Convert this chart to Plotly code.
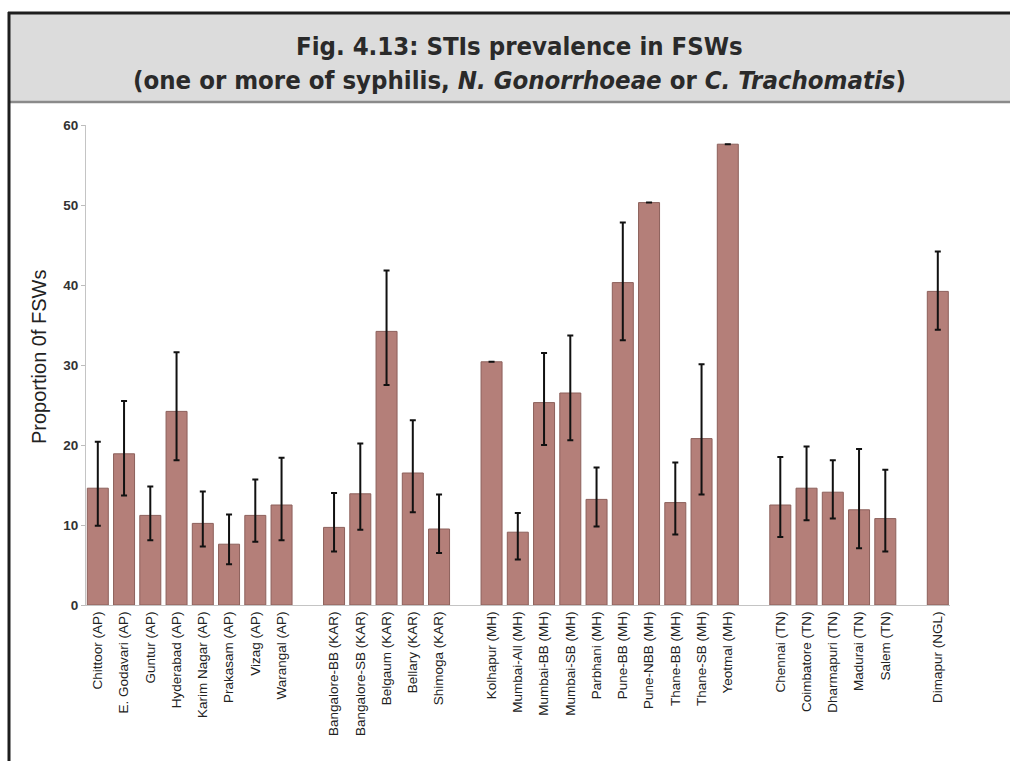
import plotly.graph_objects as go

# ---- data ----
sites = [
    "Chittoor (AP)", "E. Godavari (AP)", "Guntur (AP)", "Hyderabad (AP)",
    "Karim Nagar (AP)", "Prakasam (AP)", "Vizag (AP)", "Warangal (AP)",
    "Bangalore-BB (KAR)", "Bangalore-SB (KAR)", "Belgaum (KAR)", "Bellary (KAR)", "Shimoga (KAR)",
    "Kolhapur (MH)", "Mumbai-All (MH)", "Mumbai-BB (MH)", "Mumbai-SB (MH)", "Parbhani (MH)",
    "Pune-BB (MH)", "Pune-NBB (MH)", "Thane-BB (MH)", "Thane-SB (MH)", "Yeotmal (MH)",
    "Chennai (TN)", "Coimbatore (TN)", "Dharmapuri (TN)", "Madurai (TN)", "Salem (TN)",
    "Dimapur (NGL)",
]
group_sizes = [8, 5, 10, 5, 1]
prevalence = [14.6, 18.9, 11.2, 24.2, 10.2, 7.6, 11.2, 12.5,
              9.7, 13.9, 34.2, 16.5, 9.5,
              30.4, 9.1, 25.3, 26.5, 13.2, 40.3, 50.3, 12.8, 20.8, 57.6,
              12.5, 14.6, 14.1, 11.9, 10.8,
              39.2]
ci_low = [9.9, 13.7, 8.1, 18.1, 7.3, 5.1, 7.9, 8.1,
          6.7, 9.4, 27.5, 11.6, 6.5,
          30.4, 5.7, 20.0, 20.6, 9.8, 33.1, 50.3, 8.8, 13.8, 57.6,
          8.5, 10.6, 10.8, 7.1, 6.7,
          34.4]
ci_high = [20.4, 25.5, 14.8, 31.6, 14.2, 11.3, 15.7, 18.4,
           14.0, 20.2, 41.8, 23.1, 13.8,
           30.4, 11.5, 31.5, 33.7, 17.2, 47.8, 50.3, 17.8, 30.1, 57.6,
           18.5, 19.8, 18.1, 19.5, 16.9,
           44.2]
y_ticks = [0, 10, 20, 30, 40, 50, 60]
title_line1 = "Fig. 4.13: STIs prevalence in FSWs"
title_line2 = "(one or more of syphilis, <i>N. Gonorrhoeae</i> or <i>C. Trachomatis</i>)"
y_title = "Proportion 0f FSWs"

# slot positions: one empty slot between state groups
slots = []
pos = 0
for g in group_sizes:
    for _ in range(g):
        slots.append(pos)
        pos += 1
    pos += 1

err_plus = [h - v for h, v in zip(ci_high, prevalence)]
err_minus = [v - l for v, l in zip(prevalence, ci_low)]

fig = go.Figure()
fig.add_trace(go.Bar(
    x=slots, y=prevalence,
    marker=dict(color="rgb(180,127,121)", line=dict(color="rgb(140,96,91)", width=1)),
    error_y=dict(type="data", symmetric=False, array=err_plus, arrayminus=err_minus,
                 color="#111111", thickness=2, width=3),
    hoverinfo="x+y",
))

W, H = 1010, 761
L, R, T, B = 86, 60, 125, 156
pw, ph = W - L - R, H - T - B


def xp(px):
    return (px - L) / pw


def yp(py):
    return (H - B - py) / ph


shapes = [
    dict(type="rect", xref="paper", yref="paper", x0=xp(10), x1=xp(1015), y0=yp(101), y1=yp(14),
         fillcolor="#dcdcdc", line=dict(width=0), layer="below"),
    dict(type="line", xref="paper", yref="paper", x0=xp(10), x1=xp(1015), y0=yp(102), y1=yp(102),
         line=dict(color="#8a8a8a", width=2.5)),
    dict(type="line", xref="paper", yref="paper", x0=xp(8), x1=xp(1015), y0=yp(13), y1=yp(13),
         line=dict(color="#1e1e1e", width=3)),
    dict(type="line", xref="paper", yref="paper", x0=xp(9), x1=xp(9), y0=yp(12), y1=yp(775),
         line=dict(color="#1e1e1e", width=3)),
]

title_font = dict(family="DejaVu Sans Condensed, sans-serif", size=25.5, color="#2a2a2a")
annotations = [
    dict(text="<b>" + title_line1 + "</b>", xref="paper", yref="paper", x=xp(519), y=yp(46),
         xanchor="center", yanchor="middle", showarrow=False, font=title_font),
    dict(text="<b>" + title_line2 + "</b>", xref="paper", yref="paper", x=xp(519), y=yp(80),
         xanchor="center", yanchor="middle", showarrow=False, font=title_font),
    dict(text=y_title, xref="paper", yref="paper", x=xp(39), y=yp(357), textangle=-90,
         xanchor="center", yanchor="middle", showarrow=False,
         font=dict(family="Liberation Sans, Arial, sans-serif", size=20, color="#222222")),
]

fig.update_layout(
    width=W, height=H,
    margin=dict(l=L, r=R, t=T, b=B, pad=0),
    paper_bgcolor="white", plot_bgcolor="white",
    showlegend=False,
    bargap=0.2,
    shapes=shapes,
    annotations=annotations,
    xaxis=dict(
        range=[(L - 97.8) / 26.25, (950 - 97.8) / 26.25],
        tickmode="array", tickvals=slots, ticktext=sites, tickangle=-90,
        tickfont=dict(family="Liberation Sans, Arial, sans-serif", size=13.5, color="#222222"),
        showline=True, linecolor="#c4c4c4", linewidth=1,
        showgrid=False, zeroline=False, ticks="",
    ),
    yaxis=dict(
        range=[0, 60], tickmode="array", tickvals=y_ticks,
        tickfont=dict(family="Liberation Sans, Arial, sans-serif", size=13.5, color="#333333",
                      weight="bold"),
        ticks="outside", ticklen=4, tickcolor="#bdbdbd",
        showline=True, linecolor="#c4c4c4", linewidth=1,
        showgrid=False, zeroline=False,
    ),
)

fig.write_html("out.html")
